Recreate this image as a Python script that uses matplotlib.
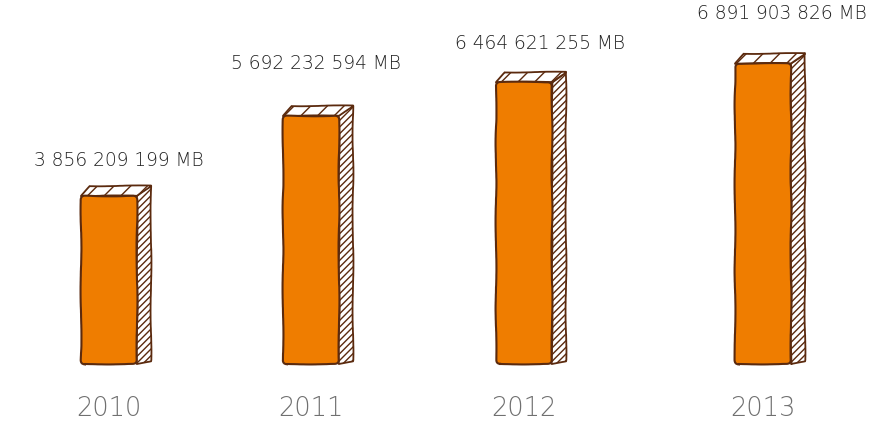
import matplotlib
matplotlib.use("Agg")
import matplotlib.pyplot as plt
from matplotlib.patches import Polygon, FancyBboxPatch

# Data
years = ["2010", "2011", "2012", "2013"]
traffic_mb = [3856209199, 5692232594, 6464621255, 6891903826]
value_labels = ["3 856 209 199 MB", "5 692 232 594 MB",
                "6 464 621 255 MB", "6 891 903 826 MB"]

# Layout (horizontal axis is in pixels, vertical axis in billions of MB)
W, H = 873, 422
slot_centers = [109, 311, 524, 763]
bar_width = 56
depth_x, depth_y = 14, 10          # pixels
baseline_px = 364                  # pixel row of the zero line
px_per_unit = 43.6                 # pixels per 1e9 MB
label_dx = [10, 5, 16, 19]
label_dy = [35, 52, 39, 50]

ORANGE = "#EF7D00"
BROWN = "#5B2A0E"

plt.rcParams["hatch.color"] = BROWN
plt.rcParams["hatch.linewidth"] = 1.0

fig = plt.figure(figsize=(W / 100, H / 100), dpi=100)
ax = fig.add_axes([0, 0, 1, 1])
ax.set_xlim(0, W)
ax.set_ylim(-(H - baseline_px) / px_per_unit, baseline_px / px_per_unit)
ax.axis("off")

dyu = depth_y / px_per_unit
sketch = (0.45, 120, 4)

for cx, val, year, lab, ldx, ldy in zip(slot_centers, traffic_mb, years,
                                        value_labels, label_dx, label_dy):
    h = val / 1e9
    x0 = cx - bar_width / 2
    x1 = cx + bar_width / 2

    # right side face
    side = Polygon([(x1, 0), (x1 + depth_x, 3 / px_per_unit),
                    (x1 + depth_x, h + dyu), (x1, h)],
                   closed=True, facecolor="white", edgecolor=BROWN,
                   hatch="/////", linewidth=1.3, joinstyle="round", zorder=2)
    side.set_sketch_params(*sketch)
    ax.add_patch(side)

    # top face
    top = Polygon([(x0, h), (x0 + depth_x * 0.6, h + dyu),
                   (x1 + depth_x, h + dyu), (x1, h)],
                  closed=True, facecolor="white", edgecolor=BROWN,
                  hatch="//", linewidth=1.3, joinstyle="round", zorder=2)
    top.set_sketch_params(*sketch)
    ax.add_patch(top)

    # front face
    front = FancyBboxPatch((x0, 0), bar_width, h,
                           boxstyle="round,pad=0,rounding_size=4",
                           mutation_aspect=1 / px_per_unit,
                           facecolor=ORANGE, edgecolor=BROWN,
                           linewidth=1.5, zorder=3)
    front.set_sketch_params(*sketch)
    ax.add_patch(front)

    ax.text(cx + ldx, h + ldy / px_per_unit, lab, ha="center", va="center",
            fontsize=13.4, color="#222222", family="DejaVu Sans",
            fontweight="light")
    ax.text(cx, -(408 - baseline_px) / px_per_unit, year, ha="center",
            va="center", fontsize=18.5, color="#707070", family="DejaVu Sans",
            fontweight="light")

fig.savefig("out.png", dpi=100, facecolor="white")
